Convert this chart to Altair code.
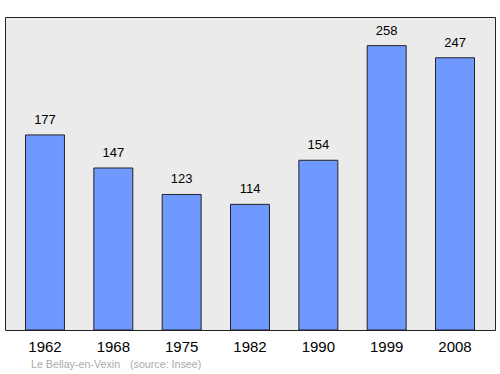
import altair as alt
import pandas as pd

years = ["1962", "1968", "1975", "1982", "1990", "1999", "2008"]
population = [177, 147, 123, 114, 154, 258, 247]
footer_place = "Le Bellay-en-Vexin"
footer_source = "(source: Insee)"

df = pd.DataFrame({"year": years, "pop": population})

x = alt.X("year:N", sort=years,
          scale=alt.Scale(paddingInner=0.43, paddingOuter=0.3),
          axis=alt.Axis(title=None, ticks=False, domain=False, labelAngle=0,
                        labelFontSize=15, labelFont="Liberation Sans",
                        labelColor="#000", labelPadding=9))
y = alt.Y("pop:Q", scale=alt.Scale(domain=[0, 284], nice=False), axis=None)

base = alt.Chart(df)
bars = base.mark_bar(color="#7099ff", stroke="#222", strokeWidth=1).encode(x=x, y=y)
labels = base.mark_text(font="Liberation Sans", fontSize=13, color="#000",
                        baseline="middle", dy=-15).encode(x=x, y=y, text="pop:Q")

fdf = pd.DataFrame({"t": [footer_place]})
sdf = pd.DataFrame({"t": [footer_source]})
foot_style = dict(align="left", baseline="middle", font="Liberation Sans",
                  fontSize=10.7, color="#aaa")
foot1 = alt.Chart(fdf).mark_text(**foot_style).encode(
    x=alt.value(26), y=alt.value(348), text="t:N")
foot2 = alt.Chart(sdf).mark_text(**foot_style).encode(
    x=alt.value(125), y=alt.value(348), text="t:N")

chart = alt.layer(bars, labels, foot1, foot2).properties(
    width=490, height=313,
    autosize=alt.AutoSizeParams(type="none"),
    padding={"left": 5, "top": 17, "right": 5, "bottom": 44},
    background="white",
).configure_view(fill="#ebebeb", stroke="#222", strokeWidth=1)

chart.save("out.html", embed_options={"renderer": "svg", "actions": False})
